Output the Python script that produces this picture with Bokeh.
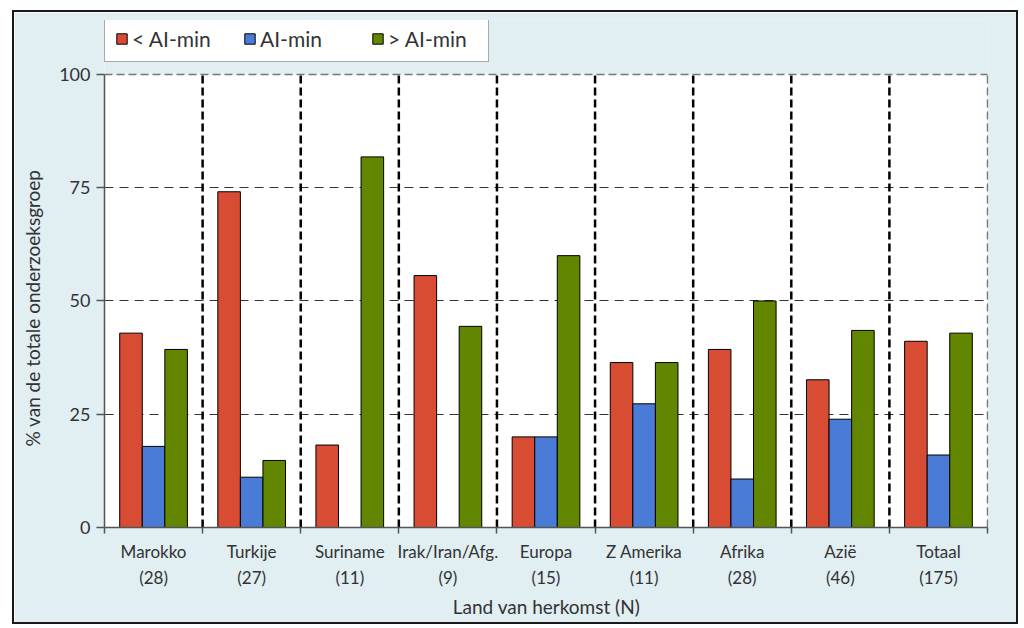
from bokeh.plotting import figure
from bokeh.models import FixedTicker, Legend, LegendItem, ColumnDataSource
from bokeh.embed import file_html
from bokeh.resources import INLINE

categories = ["Marokko", "Turkije", "Suriname", "Irak/Iran/Afg.", "Europa",
              "Z Amerika", "Afrika", "Azië", "Totaal"]
counts = [28, 27, 11, 9, 15, 11, 28, 46, 175]
below_ai = [42.9, 74.1, 18.2, 55.6, 20.0, 36.4, 39.3, 32.6, 41.1]
at_ai = [17.9, 11.1, 0.0, 0.0, 20.0, 27.3, 10.7, 23.9, 16.0]
above_ai = [39.3, 14.8, 81.8, 44.4, 60.0, 36.4, 50.0, 43.5, 42.9]
series_names = ["< AI-min", "AI-min", "> AI-min"]
colors = ["#D84C34", "#4A7BD7", "#628600"]
y_ticks = [0, 25, 50, 75, 100]

FONT = "Lato"
TXT = "#333333"
BG = "#E1EEF2"

n = len(categories)
YMAX = 100
p = figure(width=1006, height=614, x_range=(0, n + 0.01), y_range=(0, 111.9),
           output_backend="svg", toolbar_location=None,
           min_border_left=90, min_border_right=32, min_border_top=8, min_border_bottom=99)
p.styles = {"border": "2px solid #1a1a1a", "margin-left": "12px", "margin-top": "10px"}
p.background_fill_color = BG
p.border_fill_color = BG
p.outline_line_color = None

# white plotting area (0..n, 0..100)
p.quad(left=[0], right=[n], bottom=[0], top=[YMAX], fill_color="white",
       line_color=None, level="underlay")

offsets = [-0.23, 0.0, 0.23]
bar_w = 0.23
renderers = []
for vals, off, col in zip([below_ai, at_ai, above_ai], offsets, colors):
    src = ColumnDataSource(dict(x=[i + 0.5 + off for i in range(n)], top=vals))
    r = p.vbar(x="x", top="top", width=bar_w, bottom=0, source=src,
               fill_color=col, line_color="black", line_width=1)
    renderers.append(r)

# grid
p.xgrid.grid_line_color = None
p.ygrid.ticker = FixedTicker(ticks=[25, 50, 75])
p.ygrid.grid_line_color = "#333333"
p.ygrid.grid_line_dash = "9 6"
p.ygrid.grid_line_width = 1
p.ygrid.bounds = (0, n)

bounds_x = list(range(1, n))
p.segment(x0=bounds_x, y0=[0] * len(bounds_x), x1=bounds_x, y1=[YMAX] * len(bounds_x),
          line_color="black", line_width=2.5, line_dash="8 4")
p.segment(x0=[n, 0], y0=[0, YMAX], x1=[n, n], y1=[YMAX, YMAX],
          line_color="#777777", line_width=1.5, line_dash="8 4")

# x axis
xa = p.xaxis[0]
xa.ticker = FixedTicker(ticks=[i + 0.5 for i in range(n)], minor_ticks=list(range(n + 1)))
xa.major_label_overrides = {i + 0.5: f"{c}\n({k})" for i, (c, k) in enumerate(zip(categories, counts))}
xa.bounds = (0, n)
xa.major_tick_out = 0
xa.major_tick_in = 0
xa.minor_tick_out = 6
xa.minor_tick_in = 0
xa.minor_tick_line_color = "#555555"
xa.minor_tick_line_width = 1.5
xa.axis_line_color = "#555555"
xa.axis_line_width = 1.5
xa.major_label_text_font = FONT
xa.major_label_text_font_size = "17px"
xa.major_label_text_color = TXT
xa.major_label_text_line_height = 1.25
xa.major_label_standoff = 7
xa.axis_label = "Land van herkomst (N)"
xa.axis_label_text_font = FONT
xa.axis_label_text_font_size = "19px"
xa.axis_label_text_font_style = "normal"
xa.axis_label_text_color = TXT
xa.axis_label_standoff = 4

ya = p.yaxis[0]
ya.ticker = FixedTicker(ticks=y_ticks)
ya.bounds = (0, YMAX)
ya.minor_tick_line_color = None
ya.major_tick_out = 8
ya.major_tick_in = 0
ya.major_tick_line_color = "#555555"
ya.major_tick_line_width = 1.5
ya.axis_line_color = "#555555"
ya.axis_line_width = 1.5
ya.major_label_text_font = FONT
ya.major_label_text_font_size = "18px"
ya.major_label_text_color = TXT
ya.major_label_standoff = 6
# trailing non-breaking spaces shift the centred title down to the centre of the 0-100 area
ya.axis_label = "% van de totale onderzoeksgroep" + "\u00a0" * 14
ya.axis_label_text_font = FONT
ya.axis_label_text_font_size = "19px"
ya.axis_label_text_font_style = "normal"
ya.axis_label_text_color = TXT
ya.axis_label_standoff = 12

legend = Legend(items=[LegendItem(label=nm, renderers=[r]) for nm, r in zip(series_names, renderers)],
                orientation="horizontal", location=(0, 465))
legend.label_text_font = FONT
legend.label_text_font_size = "21px"
legend.label_text_color = TXT
legend.label_width = 90
legend.glyph_width = 13
legend.glyph_height = 13
legend.label_standoff = 4
legend.spacing = 21
legend.padding = 10
legend.margin = 0
legend.border_line_color = "#555555"
legend.border_line_width = 1.5
legend.background_fill_color = "white"
legend.background_fill_alpha = 1
p.add_layout(legend, "center")

open("out.html", "w").write(file_html(p, INLINE))
